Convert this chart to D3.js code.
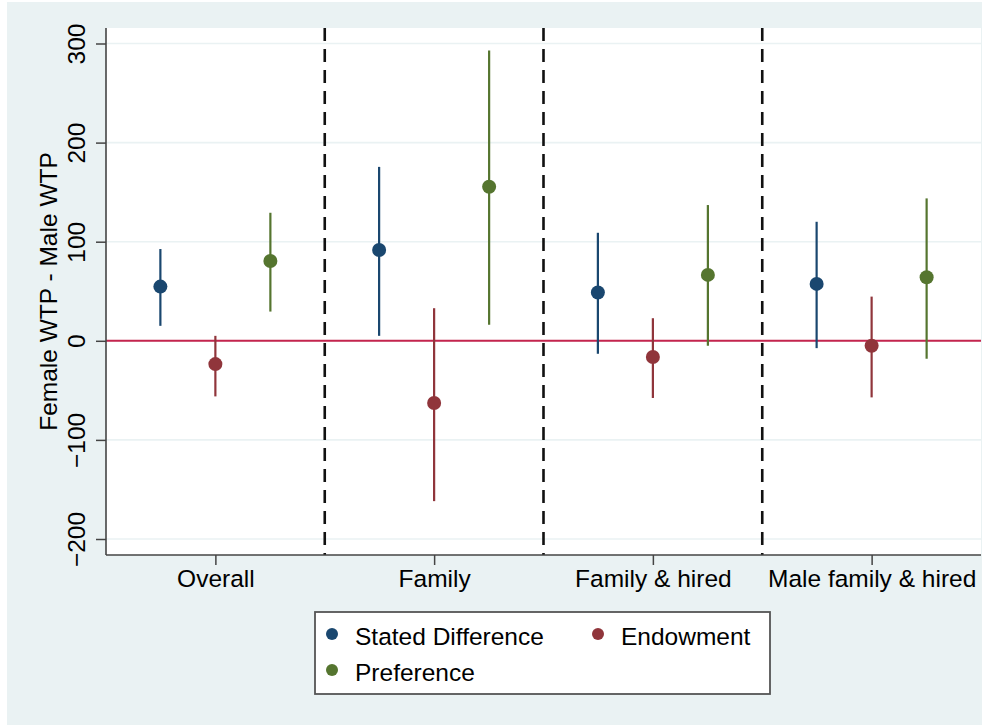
<!DOCTYPE html>
<html>
<head>
<meta charset="utf-8">
<script src="https://cdn.jsdelivr.net/npm/d3@7"></script>
<style>
  body { margin: 0; background: #fff; }
  text { font-family: "Liberation Sans", Arial, Helvetica, sans-serif; fill: #000; }
</style>
</head>
<body>
<svg id="chart" width="998" height="725"></svg>
<script>
// data
const categories = ["Overall", "Family", "Family & hired", "Male family & hired"];
const series = ["Stated Difference", "Endowment", "Preference"];
const estimates = {
    "Stated Difference": [54.7, 91.6, 48.7, 57.4],
    "Endowment": [-23.5, -62.8, -16.4, -5.0],
    "Preference": [80.6, 155.4, 66.5, 64.1]
};
const ciLow = {
    "Stated Difference": [15.1, 5.0, -13.1, -7.4],
    "Endowment": [-56.1, -161.8, -57.7, -57.1],
    "Preference": [29.5, 16.1, -5.0, -18.1]
};
const ciHigh = {
    "Stated Difference": [92.6, 175.5, 109.0, 120.1],
    "Endowment": [5.0, 32.9, 22.8, 44.6],
    "Preference": [129.2, 293.0, 137.0, 143.7]
};
const yTicks = [-200, -100, 0, 100, 200, 300];

const svg = d3.select("#chart");
const fontSize = "24.5px";

const plot = { left: 106, right: 981, top: 28, bottom: 555 };

const color = d3.scaleOrdinal()
    .domain(series)
    .range(["#1a476f", "#90353b", "#55752f"]);

//outer background
svg.append("rect")
    .attr("x", 7).attr("y", 2)
    .attr("width", 975).attr("height", 723)
    .attr("fill", "#eaf2f3");

//plot region
svg.append("rect")
    .attr("x", plot.left).attr("y", plot.top)
    .attr("width", plot.right - plot.left).attr("height", plot.bottom - plot.top)
    .attr("fill", "#fff");

const x = d3.scaleBand()
    .domain(categories)
    .range([plot.left, plot.right]);

const offset = d3.scalePoint()
    .domain(series)
    .range([-55, 55]);

const y = d3.scaleLinear()
    .domain([-200, 300])
    .range([539, 43.5]);

//gridlines
svg.append("g")
    .selectAll("line")
    .data(yTicks)
    .enter()
    .append("line")
    .attr("x1", plot.left).attr("x2", plot.right)
    .attr("y1", d => y(d)).attr("y2", d => y(d))
    .attr("stroke", "#eaf2f3")
    .attr("stroke-width", 1.6);

//zero line
svg.append("line")
    .attr("x1", plot.left).attr("x2", plot.right)
    .attr("y1", y(0)).attr("y2", y(0))
    .attr("stroke", "#c4254e")
    .attr("stroke-width", 2);

//dashed dividers between groups
svg.append("g")
    .selectAll("line")
    .data(categories.slice(1))
    .enter()
    .append("line")
    .attr("x1", d => x(d)).attr("x2", d => x(d))
    .attr("y1", plot.top).attr("y2", plot.bottom)
    .attr("stroke", "#111")
    .attr("stroke-width", 2.6)
    .attr("stroke-dasharray", "13,8");

//error bars and points
const pts = [];
series.forEach(s => {
    categories.forEach((c, i) => {
        pts.push({ s: s, c: c, v: estimates[s][i], lo: ciLow[s][i], hi: ciHigh[s][i] });
    });
});

const cx = d => x(d.c) + x.bandwidth() / 2 + offset(d.s);

svg.append("g")
    .selectAll("line")
    .data(pts)
    .enter()
    .append("line")
    .attr("x1", cx).attr("x2", cx)
    .attr("y1", d => y(d.lo)).attr("y2", d => y(d.hi))
    .attr("stroke", d => color(d.s))
    .attr("stroke-width", 2.2);

svg.append("g")
    .selectAll("circle")
    .data(pts)
    .enter()
    .append("circle")
    .attr("cx", cx)
    .attr("cy", d => y(d.v))
    .attr("r", 7)
    .attr("fill", d => color(d.s));

//axes
const yAxis = svg.append("g")
    .attr("transform", `translate(${plot.left},0)`)
    .call(d3.axisLeft(y).tickValues(yTicks).tickSize(10).tickSizeOuter(0));
yAxis.select(".domain").remove();
yAxis.selectAll(".tick line").attr("stroke", "#444").attr("stroke-width", 1.5);
yAxis.selectAll(".tick text")
    .attr("x", 0).attr("dy", 0)
    .attr("transform", "translate(-21,0) rotate(-90)")
    .attr("text-anchor", "middle")
    .style("font-size", fontSize)
    .style("font-family", "'Liberation Sans', Arial, sans-serif")
    .attr("fill", "#000");

const xAxis = svg.append("g")
    .attr("transform", `translate(0,${plot.bottom})`)
    .call(d3.axisBottom(d3.scalePoint().domain(categories)
        .range([x(categories[0]) + x.bandwidth() / 2, x(categories[3]) + x.bandwidth() / 2]))
        .tickSize(10).tickSizeOuter(0));
xAxis.select(".domain").remove();
xAxis.selectAll(".tick line").attr("stroke", "#444").attr("stroke-width", 1.5);
xAxis.selectAll(".tick text")
    .attr("y", 15).attr("dy", "0.71em")
    .style("font-size", fontSize)
    .style("font-family", "'Liberation Sans', Arial, sans-serif")
    .attr("fill", "#000");

//axis lines
svg.append("line")
    .attr("x1", plot.left).attr("x2", plot.left)
    .attr("y1", plot.top).attr("y2", plot.bottom)
    .attr("stroke", "#444").attr("stroke-width", 1.6);
svg.append("line")
    .attr("x1", plot.left).attr("x2", plot.right)
    .attr("y1", plot.bottom).attr("y2", plot.bottom)
    .attr("stroke", "#444").attr("stroke-width", 1.6);

//y title
svg.append("text")
    .attr("transform", `translate(57,${(plot.top + plot.bottom) / 2}) rotate(-90)`)
    .attr("text-anchor", "middle")
    .style("font-size", fontSize)
    .text("Female WTP - Male WTP");

//legend
const legend = svg.append("g");
legend.append("rect")
    .attr("x", 315).attr("y", 612)
    .attr("width", 455).attr("height", 82)
    .attr("fill", "#fff")
    .attr("stroke", "#555")
    .attr("stroke-width", 1.8);

const legendPos = [
    { s: series[0], mx: 332, my: 634 },
    { s: series[1], mx: 598, my: 634 },
    { s: series[2], mx: 332, my: 670 }
];

legend.selectAll("circle")
    .data(legendPos)
    .enter()
    .append("circle")
    .attr("cx", d => d.mx).attr("cy", d => d.my)
    .attr("r", 6)
    .attr("fill", d => color(d.s));

legend.selectAll("text")
    .data(legendPos)
    .enter()
    .append("text")
    .attr("x", d => d.mx + 23)
    .attr("y", d => d.my + 11)
    .style("font-size", fontSize)
    .text(d => d.s);
</script>
</body>
</html>
